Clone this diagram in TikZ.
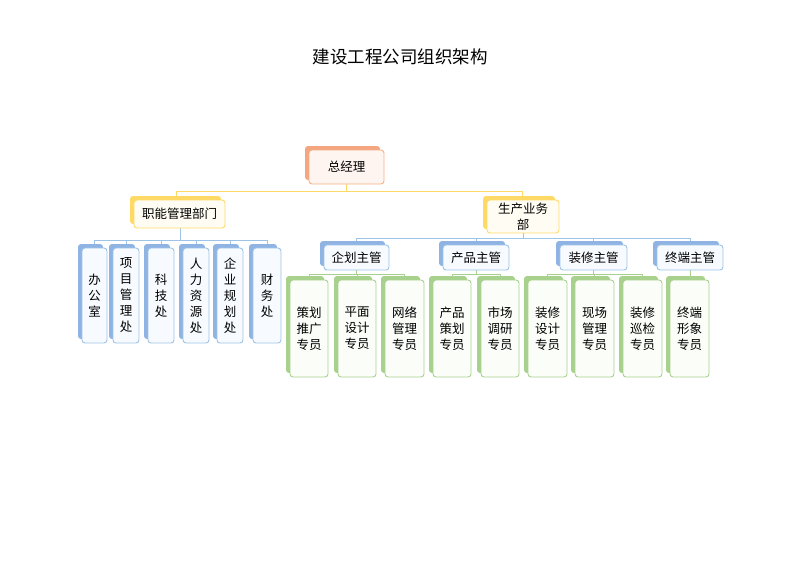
\documentclass[tikz,border=0pt]{standalone}
\usepackage{fontspec}
\setmainfont{Noto Sans CJK SC}
\usetikzlibrary{shadows}
\definecolor{orS}{HTML}{F4A582}\definecolor{orB}{HTML}{F4B183}\definecolor{orF}{HTML}{FEF4F0}
\definecolor{ylS}{HTML}{FFD966}\definecolor{ylB}{HTML}{FFD966}\definecolor{ylF}{HTML}{FFFDF3}
\definecolor{buS}{HTML}{8FB4E3}\definecolor{buB}{HTML}{9DC3E6}\definecolor{buF}{HTML}{F7FAFE}
\definecolor{gnS}{HTML}{A9D18E}\definecolor{gnB}{HTML}{A9D18E}\definecolor{gnF}{HTML}{FAFDF8}
\tikzset{
 bx/.style n args={3}{draw=#2,fill=#3,line width=0.9pt,rounded corners=3pt,align=center,inner sep=0pt,font=\fontsize{12.5}{16}\selectfont,
   copy shadow={shadow xshift=-4pt,shadow yshift=4pt,fill=#1,draw=none}},
 orb/.style={bx={orS}{orB}{orF}},
 ylb/.style={bx={ylS}{ylB}{ylF}},
 bub/.style={bx={buS}{buB}{buF}},
 gnb/.style={bx={gnS}{gnB}{gnF}},
 ln/.style={line width=0.8pt},
}
\newcommand\bx[7]{\node[#1,minimum width=#5pt-#3pt,minimum height=#6pt-#4pt] (#2) at ({(#3+#5)/2},{(#4+#6)/2}) {#7};}
\begin{document}
\begin{tikzpicture}[x=1pt,y=-1pt]
\useasboundingbox (0,0) rectangle (800,565);
\node[font=\fontsize{17.5}{20}\selectfont] (title) at (400,57) {建设工程公司组织架构};
% connectors
\draw[ln,ylB] (346,184)--(346,191) (176,191)--(522,191) (176,191)--(176,200) (522,191)--(522,200);
\draw[ln,buB] (180,228)--(180,240) (94,240)--(267,240);
\foreach \x in {94,126,161,196,230,267}{\draw[ln,buB] (\x,240)--(\x,248);}
\draw[ln,buB] (523,233)--(523,238) (356,238)--(690,238);
\foreach \x in {356,476,593,690}{\draw[ln,buB] (\x,238)--(\x,245);}
\draw[ln,gnB] (356,270)--(356,274) (309,274)--(404,274) (309,274)--(309,280) (357,274)--(357,280) (404,274)--(404,280);
\draw[ln,gnB] (476,270)--(476,274) (452,274)--(500,274) (452,274)--(452,280) (500,274)--(500,280);
\draw[ln,gnB] (593,270)--(593,274) (547,274)--(642,274) (547,274)--(547,280) (594,274)--(594,280) (642,274)--(642,280);
\draw[ln,gnB] (690,270)--(690,280);
% boxes
\bx{orb}{ceo}{309}{150}{384}{184}{总经理}
\bx{ylb}{fn}{134}{200}{225}{228}{职能管理部门}
\bx{ylb}{pd}{487}{200}{559}{233}{生产业务\\部}
\bx{bub}{a1}{82}{248}{107}{343}{办\\公\\室}
\bx{bub}{a2}{113}{248}{139}{343}{项\\目\\管\\理\\处}
\bx{bub}{a3}{148}{248}{174}{343}{科\\技\\处}
\bx{bub}{a4}{183}{248}{209}{343}{人\\力\\资\\源\\处}
\bx{bub}{a5}{217}{248}{243}{343}{企\\业\\规\\划\\处}
\bx{bub}{a6}{253}{248}{281}{343}{财\\务\\处}
\bx{bub}{s1}{324}{245}{389}{270}{企划主管}
\bx{bub}{s2}{443}{245}{509}{270}{产品主管}
\bx{bub}{s3}{560}{245}{627}{270}{装修主管}
\bx{bub}{s4}{657}{245}{723}{270}{终端主管}
\bx{gnb}{g1}{290}{280}{328}{377}{策划\\推广\\专员}
\bx{gnb}{g2}{338}{280}{376}{377}{平面\\设计\\专员}
\bx{gnb}{g3}{385}{280}{424}{377}{网络\\管理\\专员}
\bx{gnb}{g4}{433}{280}{471}{377}{产品\\策划\\专员}
\bx{gnb}{g5}{481}{280}{519}{377}{市场\\调研\\专员}
\bx{gnb}{g6}{528}{280}{567}{377}{装修\\设计\\专员}
\bx{gnb}{g7}{575}{280}{614}{377}{现场\\管理\\专员}
\bx{gnb}{g8}{623}{280}{662}{377}{装修\\巡检\\专员}
\bx{gnb}{g9}{670}{280}{709}{377}{终端\\形象\\专员}
\end{tikzpicture}
\end{document}
